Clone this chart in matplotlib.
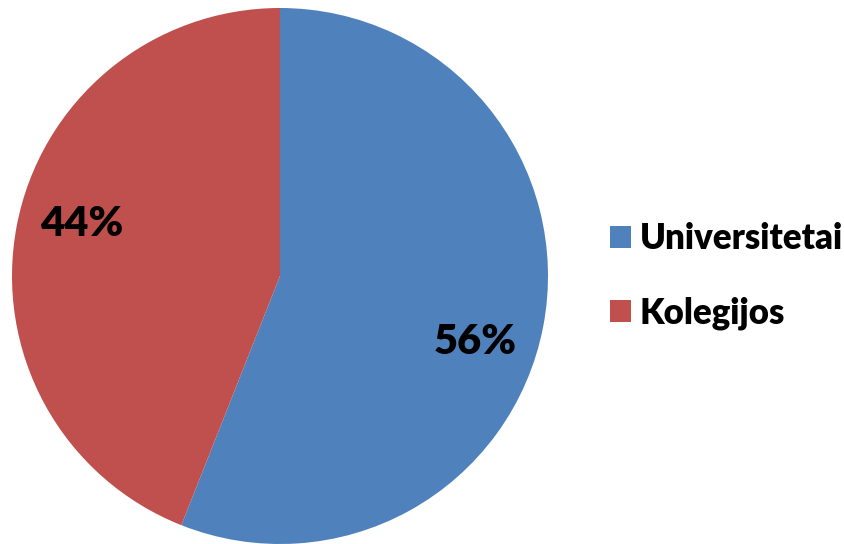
import matplotlib
matplotlib.use("Agg")
import matplotlib.pyplot as plt

categories = ["Universitetai", "Kolegijos"]
values = [56, 44]
colors = ["#4F81BD", "#C0504D"]

plt.rcParams['font.family'] = ['Lato', 'DejaVu Sans']

fig = plt.figure(figsize=(8.44, 5.44), dpi=100)
W, H = 844, 544
cx, cy, r = 280, 276, 268
ax = fig.add_axes([(cx - r) / W, (H - cy - r) / H, 2 * r / W, 2 * r / H])

wedges, texts, autotexts = ax.pie(
    values, colors=colors, startangle=90, counterclock=False,
    autopct=lambda p: f"{p:.0f}%", pctdistance=0.6,
    wedgeprops=dict(linewidth=0),
    textprops=dict(fontsize=30, fontweight='heavy', color='black'))
ax.set_xlim(-1, 1)
ax.set_ylim(-1, 1)
ax.set_aspect('auto')

label_pos = [(0.728, -0.246), (-0.739, 0.194)]
for t, (x, y) in zip(autotexts, label_pos):
    t.set_position((x, y))
    t.set_ha('center')
    t.set_va('center')

leg = fig.legend(wedges, categories, loc='center left',
                 bbox_to_anchor=(610 / W, 1 - 276 / H),
                 frameon=False, prop=dict(size=25, weight='heavy'),
                 handlelength=0.6, handleheight=0.6, handletextpad=0.25,
                 labelspacing=1.18, borderaxespad=0, borderpad=0)

fig.savefig("out.png", dpi=100)
